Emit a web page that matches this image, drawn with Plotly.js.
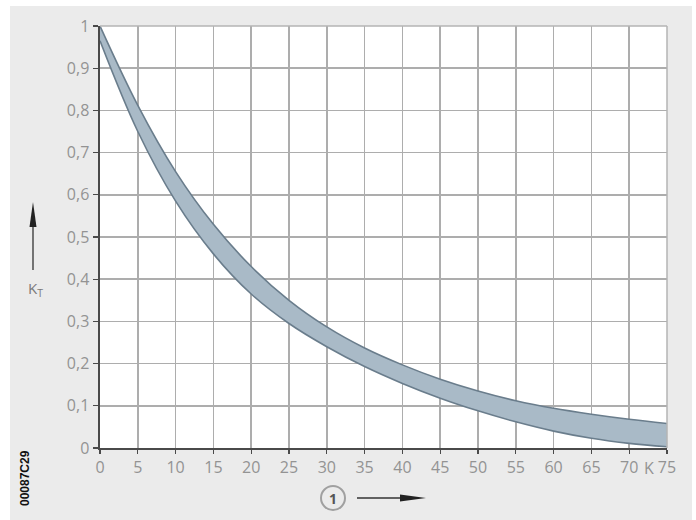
<!DOCTYPE html>
<html>
<head>
<meta charset="utf-8">
<script src="https://cdn.plot.ly/plotly-3.0.1.min.js"></script>
<style>html,body{margin:0;padding:0;background:#fff;}#chart{width:696px;height:520px;}</style>
</head>
<body>
<div id="chart"></div>
<script>
// Temperature difference (K) and correction factor K_T band
const tempK = [0, 5, 10, 15, 20, 25, 30, 35, 40, 45, 50, 55, 60, 65, 70, 75];
const upperKT = [1.0, 0.812, 0.655, 0.53, 0.43, 0.35, 0.287, 0.237, 0.197, 0.163, 0.135, 0.112, 0.094, 0.08, 0.068, 0.058];
const lowerKT = [0.965, 0.75, 0.585, 0.46, 0.365, 0.295, 0.24, 0.193, 0.153, 0.118, 0.088, 0.062, 0.04, 0.023, 0.011, 0.003];
const xTickVals = [0, 5, 10, 15, 20, 25, 30, 35, 40, 45, 50, 55, 60, 65, 70, 75];
const xTickText = ['0', '5', '10', '15', '20', '25', '30', '35', '40', '45', '50', '55', '60', '65', '70', '75'];
const yTickVals = [0, 0.1, 0.2, 0.3, 0.4, 0.5, 0.6, 0.7, 0.8, 0.9, 1];
const yTickText = ['0', '0,1', '0,2', '0,3', '0,4', '0,5', '0,6', '0,7', '0,8', '0,9', '1'];

const L = 100, T = 26, W = 567, H = 422;
const px = X => (X - L) / W;
const py = Y => (T + H - Y) / H;
const pt = (X, Y) => px(X).toFixed(5) + ',' + py(Y).toFixed(5);

const traces = [
  {x: tempK, y: lowerKT, mode: 'lines', line: {color: '#6a7d8c', width: 1.6, shape: 'spline', smoothing: 1}, hoverinfo: 'skip', showlegend: false},
  {x: tempK, y: upperKT, mode: 'lines', fill: 'tonexty', fillcolor: '#a9bac7', line: {color: '#6a7d8c', width: 1.6, shape: 'spline', smoothing: 1}, hoverinfo: 'skip', showlegend: false}
];

const tickFont = {family: 'Open Sans, DejaVu Sans, sans-serif', size: 16, color: '#939393'};

const layout = {
  width: 696, height: 520,
  margin: {l: L, r: 696 - L - W, t: T, b: 520 - T - H},
  paper_bgcolor: '#ebebeb',
  plot_bgcolor: '#ffffff',
  showlegend: false,
  xaxis: {
    range: [0, 75], tickvals: xTickVals, ticktext: xTickText,
    showgrid: true, gridcolor: '#adadad', gridwidth: 1.5, zeroline: false,
    showline: true, linecolor: '#4a4a4a', linewidth: 2,
    ticks: 'outside', ticklen: 4, tickcolor: '#4a4a4a', tickwidth: 1.2,
    tickfont: tickFont, fixedrange: true
  },
  yaxis: {
    range: [0, 1], tickvals: yTickVals, ticktext: yTickText,
    showgrid: true, gridcolor: '#adadad', gridwidth: 1.5, zeroline: false,
    showline: true, linecolor: '#4a4a4a', linewidth: 2.5,
    ticks: 'outside', ticklen: 5, tickcolor: '#4a4a4a', tickwidth: 1.2,
    tickfont: tickFont, fixedrange: true
  },
  shapes: [
    {type: 'rect', xref: 'paper', yref: 'paper', x0: px(0), x1: px(10), y0: py(520), y1: py(0), fillcolor: '#ffffff', line: {width: 0}, layer: 'below'},
    {type: 'rect', xref: 'paper', yref: 'paper', x0: px(0), x1: px(696), y0: py(6), y1: py(0), fillcolor: '#ffffff', line: {width: 0}, layer: 'below'},
    {type: 'rect', xref: 'paper', yref: 'paper', x0: px(692), x1: px(696), y0: py(520), y1: py(0), fillcolor: '#ffffff', line: {width: 0}, layer: 'below'},
    {type: 'line', xref: 'paper', yref: 'paper', x0: 0, x1: 1, y0: 1, y1: 1, line: {color: '#b4b4b4', width: 1.5}},
    {type: 'line', xref: 'paper', yref: 'paper', x0: 1, x1: 1, y0: 0, y1: 1, line: {color: '#b4b4b4', width: 1.5}},
    {type: 'circle', xref: 'paper', yref: 'paper', x0: px(321), x1: px(345), y0: py(510), y1: py(486), line: {color: '#a0a0a0', width: 2}, fillcolor: 'rgba(0,0,0,0)'},
    // x-direction arrow
    {type: 'line', xref: 'paper', yref: 'paper', x0: px(357), x1: px(404), y0: py(498), y1: py(498), line: {color: '#333333', width: 1.3}},
    {type: 'path', xref: 'paper', yref: 'paper', path: 'M' + pt(400, 494.5) + ' L' + pt(426, 498) + ' L' + pt(400, 501.5) + ' Z', fillcolor: '#222222', line: {width: 0}},
    // y-direction arrow
    {type: 'line', xref: 'paper', yref: 'paper', x0: px(33), x1: px(33), y0: py(270), y1: py(224), line: {color: '#333333', width: 1.3}},
    {type: 'path', xref: 'paper', yref: 'paper', path: 'M' + pt(29.5, 227) + ' L' + pt(33, 202) + ' L' + pt(36.5, 227) + ' Z', fillcolor: '#222222', line: {width: 0}}
  ],
  annotations: [
    {xref: 'x', yref: 'paper', x: 72.6, y: py(468), text: 'K', showarrow: false, font: tickFont, xanchor: 'center', yanchor: 'middle'},
    {xref: 'paper', yref: 'paper', x: px(333), y: py(498), text: '<b>1</b>', showarrow: false, font: {family: 'Open Sans, DejaVu Sans, sans-serif', size: 14, color: '#555555'}, xanchor: 'center', yanchor: 'middle'},
    {xref: 'paper', yref: 'paper', x: px(35), y: py(289), text: 'K<sub>T</sub>', showarrow: false, font: {family: 'Open Sans, DejaVu Sans, sans-serif', size: 15, color: '#7a7a7a'}, xanchor: 'center', yanchor: 'middle'},
    {xref: 'paper', yref: 'paper', x: px(25), y: py(478), text: '<b>00087C29</b>', textangle: -90, showarrow: false, font: {family: 'Liberation Sans, Arial, sans-serif', size: 12, color: '#111111'}, xanchor: 'center', yanchor: 'middle'}
  ]
};

Plotly.newPlot('chart', traces, layout, {displayModeBar: false, staticPlot: true});
</script>
</body>
</html>
